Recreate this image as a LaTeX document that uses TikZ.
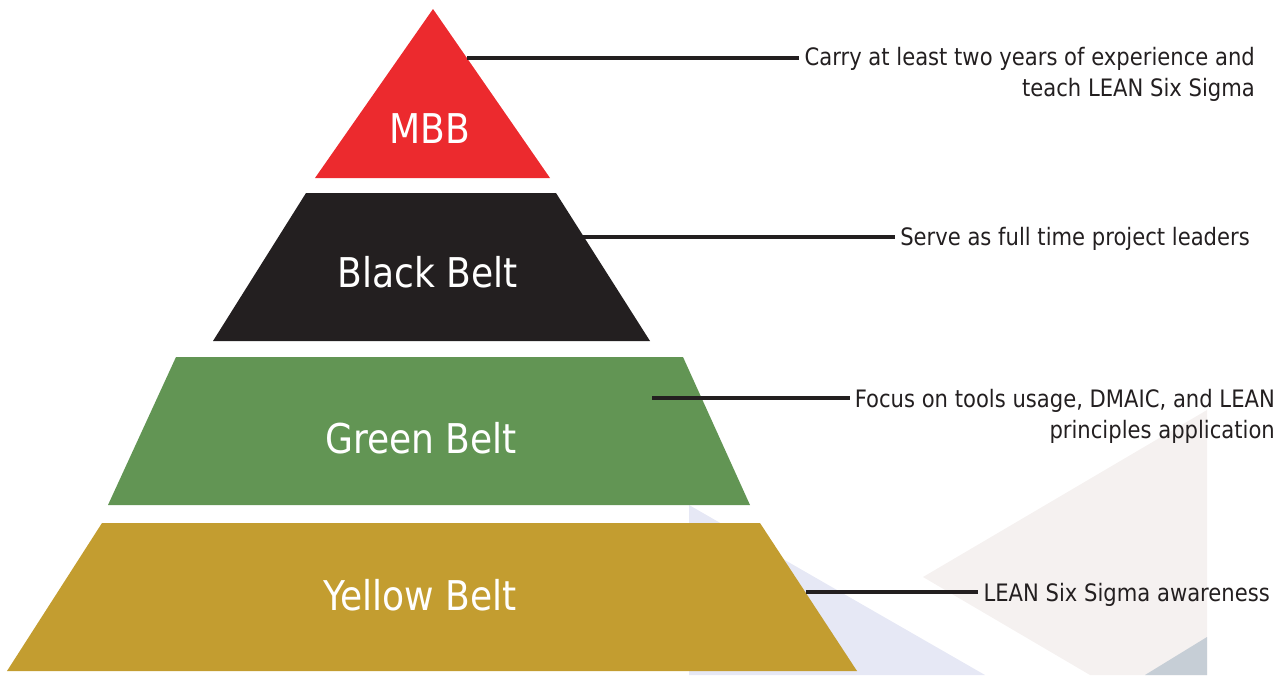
\documentclass[tikz,border=0pt]{standalone}
\usepackage{fontspec}
\setmainfont{DejaVu Sans}[FakeStretch=0.88]
\definecolor{mbbred}{HTML}{EC2A2E}
\definecolor{blackbelt}{HTML}{231F20}
\definecolor{greenbelt}{HTML}{629554}
\definecolor{yellowbelt}{HTML}{C39D30}
\definecolor{txt}{HTML}{231F20}
\definecolor{lavender}{HTML}{E6E8F5}
\definecolor{pinkgray}{HTML}{F5F1F0}
\definecolor{grayblue}{HTML}{C6CED6}
\tikzset{
  belttext/.style={text=white, font=\fontsize{41}{41}\selectfont, inner sep=0pt},
  desc/.style={text=txt, font=\fontsize{24}{31}\selectfont, align=right, inner xsep=5pt, inner ysep=0pt, anchor=east},
  conn/.style={draw=txt, line width=4pt}
}
\begin{document}
\begin{tikzpicture}[x=1pt,y=-1pt]
\useasboundingbox (0,0) rectangle (1287,675);
% background shapes
\fill[lavender] (689,505) -- (689,675) -- (985,675) -- cycle;
\fill[pinkgray] (923,577) -- (1207,410) -- (1207,675) -- (1090,675) -- cycle;
\fill[grayblue] (1207,637) -- (1207,675) -- (1145,675) -- cycle;
% pyramid bands
\fill[mbbred] (433,9) -- (550,178) -- (315,178) -- cycle;
\fill[blackbelt] (306,193) -- (556,193) -- (650,341) -- (213,341) -- cycle;
\fill[greenbelt] (176,357) -- (683,357) -- (750,505) -- (108,505) -- cycle;
\fill[yellowbelt] (102,523) -- (760,523) -- (857,671) -- (7,671) -- cycle;
% band labels
\node[belttext] (mbb) at (430,129) {MBB};
\node[belttext] (black) at (428,272) {Black Belt};
\node[belttext] (green) at (421,438) {Green Belt};
\node[belttext] (yellow) at (420,595) {Yellow Belt};
% descriptions
\node[desc] (d1) at (1260,74.5) {Carry at least two years of experience and\\teach LEAN Six Sigma};
\node[desc] (d2) at (1255,239) {Serve as full time project leaders};
\node[desc] (d3) at (1280,416) {Focus on tools usage, DMAIC, and LEAN\\principles application};
\node[desc] (d4) at (1275,595) {LEAN Six Sigma awareness};
% connectors
\coordinate (c1) at (467,58);
\coordinate (c2) at (577,237);
\coordinate (c3) at (652,398);
\coordinate (c4) at (806,592);
\draw[conn] (c1) -- (c1 -| d1.west);
\draw[conn] (c2) -- (c2 -| d2.west);
\draw[conn] (c3) -- (c3 -| d3.west);
\draw[conn] (c4) -- (c4 -| d4.west);
\end{tikzpicture}
\end{document}
